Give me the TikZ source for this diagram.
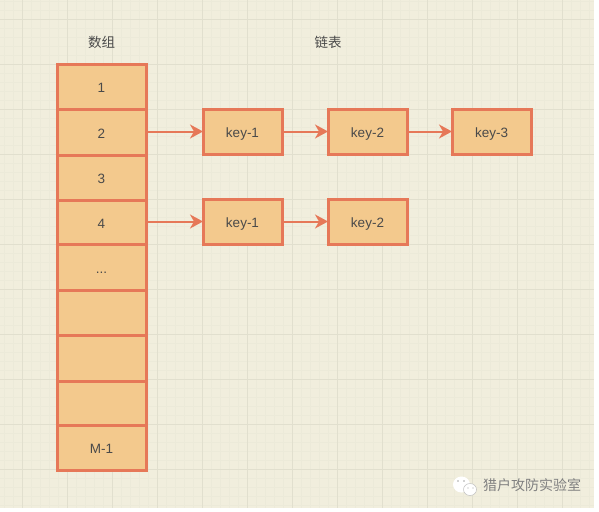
\documentclass[tikz,border=0pt]{standalone}
\usepackage{fontspec}
\setmainfont{Liberation Sans}
\newfontfamily\cjk{Noto Sans CJK SC}
\usetikzlibrary{arrows.meta}
\definecolor{paper}{HTML}{F1EEDD}
\definecolor{minorgrid}{HTML}{ECEAD9}
\definecolor{majorgrid}{HTML}{E1DFCE}
\definecolor{boxfill}{HTML}{F3C98D}
\definecolor{boxline}{HTML}{E67858}
\definecolor{labeltext}{HTML}{4A4A4A}
\definecolor{marktext}{HTML}{808080}
\tikzset{
  x=1pt,y=-1pt,
  cell/.style={draw=boxline,fill=boxfill,line width=3pt,minimum width=89pt,inner sep=0pt,outer sep=0pt,text=labeltext,text height=12pt,text depth=0pt,font=\fontsize{13.5}{15}\selectfont},
  keybox/.style={draw=boxline,fill=boxfill,line width=3pt,minimum width=79pt,minimum height=45pt,inner sep=0pt,outer sep=0pt,text=labeltext,text height=12pt,text depth=0pt,font=\fontsize{13.5}{15}\selectfont},
  link/.style={draw=boxline,line width=2pt,-{Stealth[length=13pt,width=14pt,inset=4pt]}},
  heading/.style={text=labeltext,inner sep=0pt,font=\cjk\fontsize{13.5}{15}\selectfont},
  wmark/.style={text=marktext,inner sep=0pt,font=\cjk\fontsize{14}{16}\selectfont}
}
\begin{document}
\begin{tikzpicture}
\useasboundingbox (0,0) rectangle (599,511);
\fill[white] (0,0) rectangle (599,511);
\fill[paper] (0,0) rectangle (594,508);
\foreach \i in {0,...,65}{\draw[minorgrid,line width=.6pt] ({4+9*\i},0) -- ({4+9*\i},508);}
\foreach \i in {0,...,56}{\draw[minorgrid,line width=.6pt] (0,{1+9*\i}) -- (594,{1+9*\i});}
\foreach \i in {0,...,12}{\draw[majorgrid,line width=.7pt] ({22.5+45*\i},0) -- ({22.5+45*\i},508);}
\foreach \i in {0,...,10}{\draw[majorgrid,line width=.7pt] (0,{19+45*\i}) -- (594,{19+45*\i});}

\node[heading] (htitlea) at (101.5,42) {数组};
\node[heading] (htitleb) at (328,42) {链表};

\node[cell,minimum height=45pt] (r1) at (101.5,86.5) {1};
\node[cell,minimum height=46pt] (r2) at (101.5,132) {2};
\node[cell,minimum height=45pt] (r3) at (101.5,177.5) {3};
\node[cell,minimum height=44pt] (r4) at (101.5,222) {4};
\node[cell,minimum height=46pt] (r5) at (101.5,267) {...};
\node[cell,minimum height=45pt] (r6) at (101.5,312.5) {};
\node[cell,minimum height=46pt] (r7) at (101.5,358) {};
\node[cell,minimum height=44pt] (r8) at (101.5,403) {};
\node[cell,minimum height=45pt] (r9) at (101.5,447.5) {M-1};

\node[keybox] (a1) at (242.5,131.5) {key-1};
\node[keybox] (a2) at (367.5,131.5) {key-2};
\node[keybox] (a3) at (491.5,131.5) {key-3};
\node[keybox] (b1) at (242.5,221.5) {key-1};
\node[keybox] (b2) at (367.5,221.5) {key-2};

\draw[link] (r2.east |- a1.west) -- (a1.west);
\draw[link] (a1.east) -- (a2.west);
\draw[link] (a2.east) -- (a3.west);
\draw[link] (r4.east |- b1.west) -- (b1.west);
\draw[link] (b1.east) -- (b2.west);

% watermark
\fill[white] (461.5,484.5) ellipse (8.5pt and 8pt);
\fill[white] (470,489.5) ellipse (6.5pt and 6pt);
\draw[gray!50,line width=.5pt] (470,489.5) ellipse (6.5pt and 6pt);
\fill[gray!70] (458,481) circle (.9pt) (464,481) circle (.9pt) (468,488) circle (.7pt) (473,488) circle (.7pt);
\node[wmark] (wm) at (532,485) {猎户攻防实验室};
\end{tikzpicture}
\end{document}
